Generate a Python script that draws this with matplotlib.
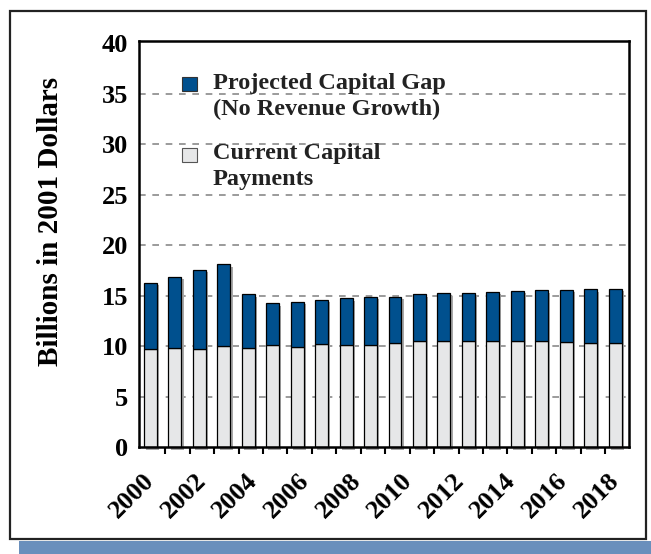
import numpy as np
import matplotlib.pyplot as plt
from matplotlib.patches import Rectangle
import matplotlib.transforms as mtransforms

years = list(range(2000, 2020))
current = [9.7, 9.8, 9.7, 9.97, 9.8, 10.1, 9.94, 10.2, 10.14, 10.07,
           10.33, 10.53, 10.53, 10.53, 10.53, 10.47, 10.47, 10.43, 10.33, 10.3]
total = [16.28, 16.88, 17.55, 18.12, 15.1, 14.22, 14.36, 14.57, 14.73, 14.9,
         14.87, 15.1, 15.2, 15.27, 15.37, 15.47, 15.53, 15.57, 15.6, 15.67]
gap = [t - c for t, c in zip(total, current)]
tick_labels = [str(y) for y in range(2000, 2019, 2)]
y_ticks = list(range(0, 41, 5))

blue = '#00508e'
grey = '#e6e7e8'
serif = ['Liberation Serif', 'DejaVu Serif']

fig = plt.figure(figsize=(6.51, 5.54), dpi=100)
ax = fig.add_axes([139 / 651, 1 - 447 / 554, (629 - 139) / 651, (447 - 41) / 554])

x = np.arange(len(years))
w = 0.53
# soft shadow behind each bar
ax.bar(x + 0.09, total, w, bottom=-0.25, color='#a8a8a8', zorder=2, clip_on=False)
ax.bar(x, current, w, color=grey, edgecolor='black', linewidth=0.9, zorder=3)
ax.bar(x, gap, w, bottom=current, color=blue, edgecolor='black', linewidth=0.9, zorder=3)

ax.set_xlim(-0.47, 19.57)
ax.set_ylim(0, 40.2)
ax.set_yticks(y_ticks)
ax.set_yticklabels([str(v) for v in y_ticks], fontsize=19, fontweight='bold', family=serif)
ax.tick_params(axis='y', length=0, pad=8)
for v in y_ticks[1:-1]:
    ax.axhline(v, color='#8a8a8a', lw=1.2, ls=(0, (4, 4)), zorder=1)

# year labels spread over the category axis
lab_pos = np.linspace(0, len(years) - 1, len(tick_labels))
ax.set_xticks(lab_pos)
ax.set_xticklabels(tick_labels, rotation=45, ha='right', va='top', rotation_mode='anchor',
                   fontsize=19, fontweight='bold', family=serif)
ax.tick_params(axis='x', length=0, pad=16)
offset = mtransforms.ScaledTranslation(-8 / 100, 0, fig.dpi_scale_trans)
for lbl in ax.get_xticklabels():
    lbl.set_transform(lbl.get_transform() + offset)
ax.set_xticks(x[:-1] + 0.6, minor=True)
ax.tick_params(axis='x', which='minor', length=5, width=1.5, color='black', direction='out')

for s in ax.spines.values():
    s.set_linewidth(1.8)
    s.set_zorder(5)

ax.set_ylabel('Billions in 2001 Dollars', fontsize=21, fontweight='bold', family=serif)
ax.yaxis.set_label_coords(-(139 - 64) / 490, 0.555)

# legend drawn by hand
fig.patches.append(Rectangle((182 / 651, 1 - 91 / 554), 15 / 651, 14 / 554, transform=fig.transFigure,
                             facecolor=blue, edgecolor='#333333', lw=0.8))
fig.patches.append(Rectangle((182 / 651, 1 - 162 / 554), 15 / 651, 14 / 554, transform=fig.transFigure,
                             facecolor=grey, edgecolor='#555555', lw=0.8))
fig.text(213 / 651, 1 - 73 / 554, 'Projected Capital Gap\n(No Revenue Growth)', va='top', ha='left',
         fontsize=17.5, fontweight='bold', family=serif, color='#222222', linespacing=1.3)
fig.text(213 / 651, 1 - 143 / 554, 'Current Capital\nPayments', va='top', ha='left',
         fontsize=17.5, fontweight='bold', family=serif, color='#222222', linespacing=1.3)

# outer frame and bottom band
fig.patches.append(Rectangle((10 / 651, 1 - 539 / 554), 636 / 651, 528 / 554, transform=fig.transFigure,
                             fill=False, edgecolor='#222222', lw=1.6))
fig.patches.append(Rectangle((19 / 651, 0), 632 / 651, 13 / 554, transform=fig.transFigure,
                             facecolor='#6a8fbc', edgecolor='none'))

fig.savefig('out.png', dpi=100)
